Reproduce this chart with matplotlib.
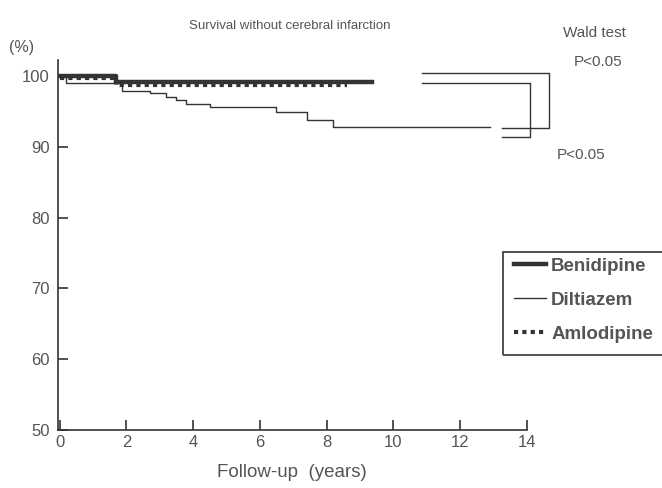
import matplotlib.pyplot as plt
from matplotlib.patches import Rectangle

plt.rcParams['font.family'] = ['Liberation Sans', 'DejaVu Sans']

# step data (years, % surviving without cerebral infarction)
beni_t = [0, 1.7, 1.7, 9.35]
beni_v = [100, 100, 99.2, 99.2]

dilt_t = [0, 0.2, 0.2, 1.86, 1.86, 2.7, 2.7, 3.2, 3.2, 3.5, 3.5, 3.8, 3.8, 4.5, 4.5, 6.5, 6.5, 7.4, 7.4, 8.2, 8.2, 12.9]
dilt_v = [100, 100, 99.0, 99.0, 97.9, 97.9, 97.6, 97.6, 97.1, 97.1, 96.6, 96.6, 96.1, 96.1, 95.7, 95.7, 94.9, 94.9, 93.8, 93.8, 92.8, 92.8]

amlo_t = [0, 1.7, 1.7, 8.6]
amlo_v = [99.7, 99.7, 98.8, 98.8]

xticks = [0, 2, 4, 6, 8, 10, 12, 14]
yticks = [50, 60, 70, 80, 90, 100]

ink = '#333333'
txt = '#555555'

fig = plt.figure(figsize=(6.62, 4.88), dpi=100)
ax = fig.add_axes([0.0876, 0.119, 0.708, 0.758])

ax.plot(beni_t, beni_v, color=ink, lw=3.2, label='Benidipine')
ax.plot(dilt_t, dilt_v, color=ink, lw=1.0, label='Diltiazem')
ax.plot(amlo_t, amlo_v, color=ink, lw=3.0, linestyle=(0, (1, 1)), label='Amlodipine')

# bracket lines for the Wald test comparisons
ax.plot([10.86, 14.67, 14.67, 13.26], [100.4, 100.4, 92.65, 92.65], color=ink, lw=1.0, clip_on=False)
ax.plot([10.86, 14.1, 14.1, 13.26], [99.05, 99.05, 91.4, 91.4], color=ink, lw=1.0, clip_on=False)

ax.set_xlim(-0.05, 14)
ax.set_ylim(50, 102.3)
ax.set_xticks(xticks)
ax.set_yticks(yticks)
ax.tick_params(direction='in', length=7, width=1.2, colors=ink, labelcolor=txt, labelsize=12)
ax.tick_params(axis='y', pad=6)
ax.spines['top'].set_visible(False)
ax.spines['right'].set_visible(False)
for s in ['left', 'bottom']:
    ax.spines[s].set_color(ink)
    ax.spines[s].set_linewidth(1.2)

ax.set_xlabel('Follow-up  (years)', fontsize=13.5, color=txt, labelpad=10)

fig.text(0.438, 0.947, 'Survival without cerebral infarction', fontsize=9.5, color=txt, ha='center', va='center')
fig.text(0.033, 0.902, '(%)', fontsize=11.5, color=txt, ha='center', va='center')
fig.text(0.898, 0.932, 'Wald test', fontsize=11, color=txt, ha='center', va='center')
fig.text(0.903, 0.873, 'P<0.05', fontsize=11, color=txt, ha='center', va='center')
fig.text(0.877, 0.682, 'P<0.05', fontsize=11, color=txt, ha='center', va='center')

# legend frame runs off the right edge, as in the scan
fig.patches.append(Rectangle((0.760, 0.2725), 0.26, 0.211, transform=fig.transFigure,
                             fill=False, edgecolor=ink, lw=1.2))
leg = fig.legend(loc='upper left', bbox_to_anchor=(0.776, 0.472), frameon=False,
                 handlelength=1.7, handletextpad=0.3, labelspacing=0.9,
                 borderpad=0.0, borderaxespad=0.0, prop={'weight': 'bold', 'size': 13.5})
for t in leg.get_texts():
    t.set_color(txt)

fig.savefig('out.png', dpi=100)
